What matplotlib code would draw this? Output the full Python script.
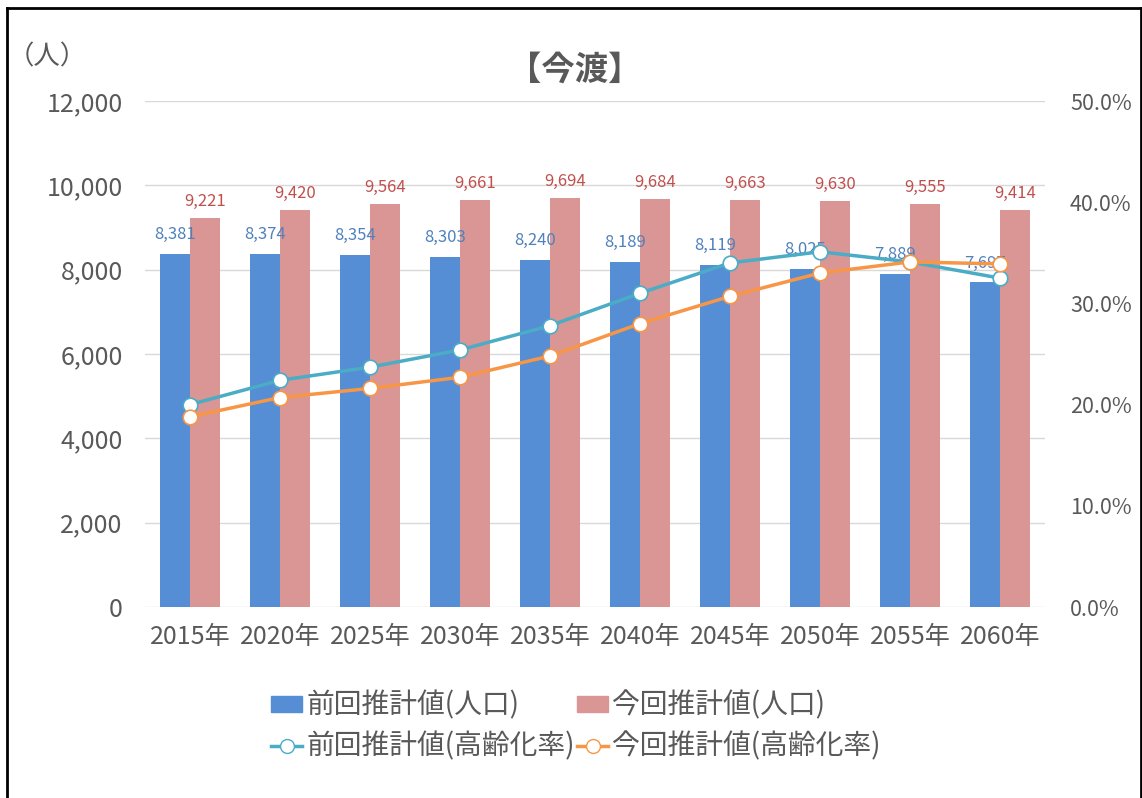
import matplotlib
matplotlib.use("Agg")
import matplotlib.pyplot as plt
from matplotlib.lines import Line2D
from matplotlib.patches import Patch
import numpy as np

plt.rcParams['font.family'] = ['Noto Sans CJK JP', 'DejaVu Sans']

categories = ['2015年', '2020年', '2025年', '2030年', '2035年', '2040年', '2045年', '2050年', '2055年', '2060年']
prev_pop = [8381, 8374, 8354, 8303, 8240, 8189, 8119, 8025, 7889, 7697]
curr_pop = [9221, 9420, 9564, 9661, 9694, 9684, 9663, 9630, 9555, 9414]
prev_aging = [20.0, 22.4, 23.7, 25.4, 27.8, 31.0, 34.0, 35.1, 34.1, 32.5]
curr_aging = [18.8, 20.7, 21.6, 22.7, 24.8, 28.0, 30.7, 33.0, 34.1, 33.9]

left_ticks = [0, 2000, 4000, 6000, 8000, 10000, 12000]
right_ticks = [0, 10, 20, 30, 40, 50]

c_blue = '#558ED5'
c_pink = '#D99694'
c_line_blue = '#4BACC6'
c_orange = '#F79646'
c_text = '#595959'
c_lbl_blue = '#4F81BD'
c_lbl_red = '#C0504D'

fig = plt.figure(figsize=(11.42, 7.98), dpi=100)
ax = fig.add_axes([145/1142, 1-607/798, 900/1142, 506/798])
ax2 = ax.twinx()

x = np.arange(len(categories))
w = 1/3
ax.bar(x - w/2, prev_pop, w, color=c_blue, zorder=2)
ax.bar(x + w/2, curr_pop, w, color=c_pink, zorder=2)

for xi, v in zip(x, prev_pop):
    ax.text(xi - w/2, v + 260, f'{v:,}', ha='center', va='bottom', fontsize=12, color=c_lbl_blue, zorder=5)
for xi, v in zip(x, curr_pop):
    ax.text(xi + w/2, v + 190, f'{v:,}', ha='center', va='bottom', fontsize=12, color=c_lbl_red, zorder=5)

ax.set_xlim(-0.5, len(categories) - 0.5)
ax.set_ylim(0, 12000)
ax.set_yticks(left_ticks)
ax.set_yticklabels([f'{t:,}' for t in left_ticks])
ax.set_xticks(x)
ax.set_xticklabels(categories)
ax.grid(axis='y', color='#D9D9D9', linewidth=1, zorder=0)
ax.set_axisbelow(True)
for s in ax.spines.values():
    s.set_visible(False)
for s in ax2.spines.values():
    s.set_visible(False)
ax.tick_params(axis='both', length=0, labelcolor=c_text)
ax.tick_params(axis='y', labelsize=18, pad=16)
ax.tick_params(axis='x', labelsize=18, pad=12)

ax2.plot(x, prev_aging, color=c_line_blue, linewidth=2.5, marker='o', markersize=10.5,
         markerfacecolor='white', markeredgecolor=c_line_blue, markeredgewidth=1.2, zorder=4)
ax2.plot(x, curr_aging, color=c_orange, linewidth=2.5, marker='o', markersize=10.5,
         markerfacecolor='white', markeredgecolor=c_orange, markeredgewidth=1.2, zorder=4)
ax2.set_ylim(0, 50)
ax2.set_yticks(right_ticks)
ax2.set_yticklabels([f'{t:.1f}%' for t in right_ticks])
ax2.tick_params(axis='y', length=0, labelsize=15.5, labelcolor=c_text, pad=18)

fig.text(575/1142, 1-70/798, '【今渡】', ha='center', va='center', fontsize=24, fontweight='bold', color=c_text)
fig.text(8/1142, 1-57/798, '（人）', ha='left', va='center', fontsize=19, color=c_text)

handles = [
    Patch(color=c_blue),
    Line2D([0], [0], color=c_line_blue, linewidth=2.5, marker='o', markersize=10,
           markerfacecolor='white', markeredgecolor=c_line_blue),
    Patch(color=c_pink),
    Line2D([0], [0], color=c_orange, linewidth=2.5, marker='o', markersize=10,
           markerfacecolor='white', markeredgecolor=c_orange),
]
labels = ['前回推計値(人口)', '前回推計値(高齢化率)', '今回推計値(人口)', '今回推計値(高齢化率)']
fig.legend(handles, labels, ncol=2, loc='center', bbox_to_anchor=(576/1142, 1-726/798),
           frameon=False, fontsize=20, labelcolor=c_text, handlelength=1.1, handleheight=0.5,
           handletextpad=0.15, columnspacing=0.1, labelspacing=0.4, borderpad=0.2)

# border (top, left, right)
fig.add_artist(Line2D([7/1142, 1141/1142], [1-8/798, 1-8/798], color='black', linewidth=2, transform=fig.transFigure))
fig.add_artist(Line2D([7/1142, 7/1142], [0, 1-8/798], color='black', linewidth=2, transform=fig.transFigure))
fig.add_artist(Line2D([1141/1142, 1141/1142], [0, 1-8/798], color='black', linewidth=2, transform=fig.transFigure))

fig.savefig('out.png', dpi=100)
